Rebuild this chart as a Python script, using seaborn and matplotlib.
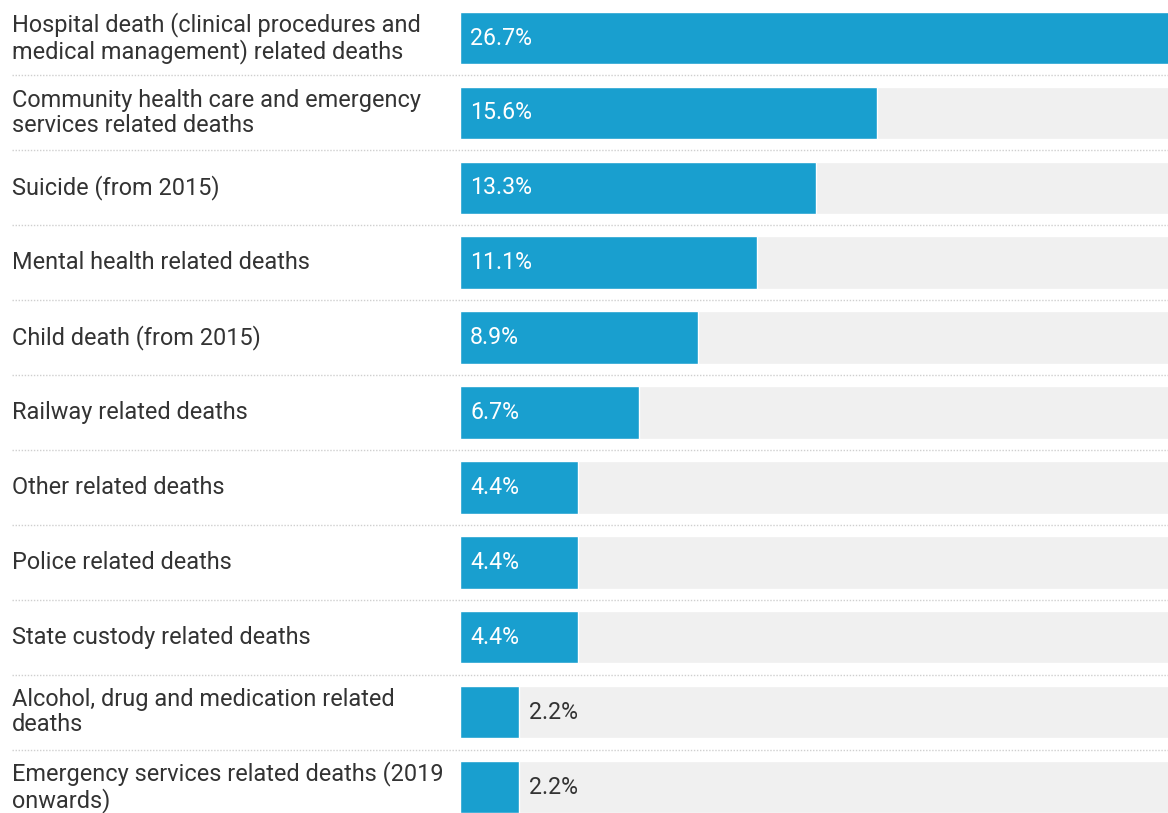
import matplotlib
matplotlib.use("Agg")
import matplotlib.pyplot as plt
import matplotlib.transforms as mtransforms
from matplotlib.lines import Line2D
import seaborn as sns
import pandas as pd

categories = [
    "Hospital death (clinical procedures and\nmedical management) related deaths",
    "Community health care and emergency\nservices related deaths",
    "Suicide (from 2015)",
    "Mental health related deaths",
    "Child death (from 2015)",
    "Railway related deaths",
    "Other related deaths",
    "Police related deaths",
    "State custody related deaths",
    "Alcohol, drug and medication related\ndeaths",
    "Emergency services related deaths (2019\nonwards)",
]
values = [26.7, 15.6, 13.3, 11.1, 8.9, 6.7, 4.4, 4.4, 4.4, 2.2, 2.2]
value_labels = ["26.7%", "15.6%", "13.3%", "11.1%", "8.9%", "6.7%",
                "4.4%", "4.4%", "4.4%", "2.2%", "2.2%"]

BLUE = "#199fcf"
TRACK = "#f0f0f0"
TEXT = "#333333"
FS_LABEL = 16.9
FS_VALUE = 16.7

sns.set_theme(style="white")
plt.rcParams["font.family"] = ["Roboto", "DejaVu Sans"]

df = pd.DataFrame({"category": categories, "value": values})
df["track"] = max(values)

W, H = 1168, 813
left = 460
fig = plt.figure(figsize=(W / 100, H / 100), dpi=100)
ax = fig.add_axes([left / W, 0, 1 - left / W, 1])

sns.barplot(data=df, x="track", y="category", color=TRACK, width=0.7,
            saturation=1, ax=ax, orient="h")
sns.barplot(data=df, x="value", y="category", color=BLUE, width=0.7,
            saturation=1, ax=ax, orient="h")

pitch = 74.9
top = 38 / pitch
bottom = (H - 38) / pitch
xmax = 26.48
ax.set_xlim(0, xmax)
ax.set_ylim(bottom, -top)
ax.set_axis_off()

px_per_unit = (W - left) / xmax
for i, (v, lab) in enumerate(zip(values, value_labels)):
    if v * px_per_unit > 100:
        ax.text(10 / px_per_unit, i, lab, color="white", fontsize=FS_VALUE,
                va="center", ha="left")
    else:
        ax.text(v + 10 / px_per_unit, i, lab, color=TEXT, fontsize=FS_VALUE,
                va="center", ha="left")

# category labels on the left, in figure x / data y
blend = mtransforms.blended_transform_factory(fig.transFigure, ax.transData)
for i, cat in enumerate(categories):
    ax.text(12 / W, i, cat, transform=blend, fontsize=FS_LABEL, color=TEXT,
            va="center", ha="left", linespacing=1.15, clip_on=False)

# dotted separators between rows
for i in range(len(categories) - 1):
    y = i + 0.5
    ax.add_line(Line2D([12 / W, 1.0], [y, y], transform=blend,
                       color="#cfcfcf", linewidth=1.0,
                       linestyle=(0, (1, 1.2)), clip_on=False))

fig.savefig("out.png", dpi=100)
